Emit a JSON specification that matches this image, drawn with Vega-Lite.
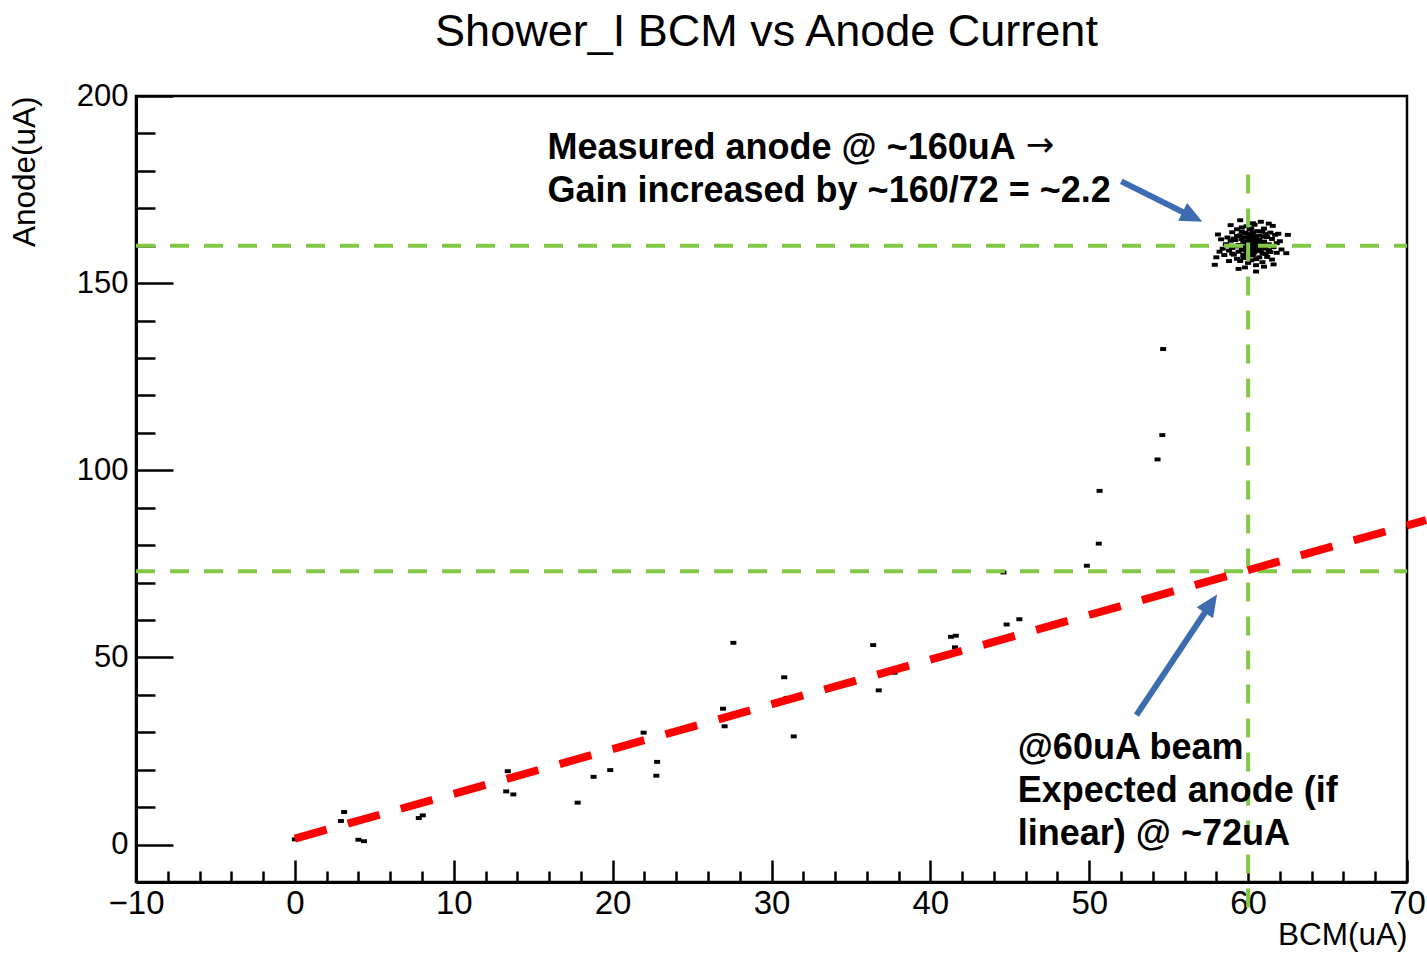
{
  "$schema": "https://vega.github.io/schema/vega-lite/v6.json",
  "autosize": {"type": "none"},
  "width": 1271,
  "height": 786,
  "padding": {"left": 136, "top": 96, "right": 20, "bottom": 71},
  "background": "white",
  "config": {
    "view": {"stroke": "black", "strokeWidth": 2.5},
    "font": "Liberation Sans",
    "axis": {
      "labelFont": "Liberation Sans",
      "titleFont": "Liberation Sans",
      "labelColor": "black",
      "titleColor": "black",
      "tickColor": "black",
      "domainColor": "black",
      "grid": false,
      "labelOverlap": false,
      "labelFlush": false,
      "titleFontWeight": "normal"
    }
  },
  "title": {
    "text": "Shower_I BCM vs Anode Current",
    "fontSize": 45,
    "font": "Liberation Sans",
    "fontWeight": "normal",
    "color": "black",
    "anchor": "middle",
    "frame": "group",
    "baseline": "alphabetic",
    "offset": -11,
    "dx": -5
  },
  "datasets": {
    "points": [
      {"bcm": 0.0, "anode": 1.4}, {"bcm": 3.1, "anode": 8.7}, {"bcm": 2.9, "anode": 6.3},
      {"bcm": 4.0, "anode": 1.3}, {"bcm": 4.35, "anode": 0.9}, {"bcm": 7.8, "anode": 7.1},
      {"bcm": 8.05, "anode": 7.8}, {"bcm": 13.4, "anode": 19.6}, {"bcm": 13.3, "anode": 14.2},
      {"bcm": 13.75, "anode": 13.4}, {"bcm": 17.05, "anode": 22.3}, {"bcm": 17.8, "anode": 11.2},
      {"bcm": 18.8, "anode": 18.1}, {"bcm": 19.85, "anode": 19.9}, {"bcm": 21.95, "anode": 29.9},
      {"bcm": 22.8, "anode": 22.1}, {"bcm": 22.75, "anode": 18.4}, {"bcm": 26.95, "anode": 36.3},
      {"bcm": 27.05, "anode": 31.6}, {"bcm": 27.6, "anode": 53.9}, {"bcm": 30.8, "anode": 44.7},
      {"bcm": 30.95, "anode": 39.2}, {"bcm": 31.4, "anode": 28.9}, {"bcm": 36.4, "anode": 53.3},
      {"bcm": 37.75, "anode": 45.9}, {"bcm": 36.75, "anode": 41.2}, {"bcm": 41.3, "anode": 55.5},
      {"bcm": 41.6, "anode": 55.8}, {"bcm": 41.55, "anode": 52.7}, {"bcm": 44.6, "anode": 72.7},
      {"bcm": 44.8, "anode": 58.8}, {"bcm": 45.6, "anode": 60.2}, {"bcm": 49.85, "anode": 74.5},
      {"bcm": 50.6, "anode": 80.4}, {"bcm": 50.65, "anode": 94.5}, {"bcm": 54.3, "anode": 102.9},
      {"bcm": 54.6, "anode": 109.4}, {"bcm": 54.65, "anode": 132.4},
      {"bcm": 59.2, "anode": 161.5}, {"bcm": 59.4, "anode": 160.2}, {"bcm": 59.5, "anode": 162.8},
      {"bcm": 59.6, "anode": 158.9}, {"bcm": 59.7, "anode": 161.0}, {"bcm": 59.8, "anode": 163.5},
      {"bcm": 59.8, "anode": 159.6}, {"bcm": 59.9, "anode": 160.8}, {"bcm": 60.0, "anode": 162.1},
      {"bcm": 60.0, "anode": 158.2}, {"bcm": 60.1, "anode": 161.4}, {"bcm": 60.1, "anode": 159.3},
      {"bcm": 60.2, "anode": 160.5}, {"bcm": 60.2, "anode": 163.0}, {"bcm": 60.3, "anode": 157.4},
      {"bcm": 60.3, "anode": 161.9}, {"bcm": 60.4, "anode": 159.8}, {"bcm": 60.5, "anode": 162.6},
      {"bcm": 60.5, "anode": 160.9}, {"bcm": 60.6, "anode": 158.6}, {"bcm": 60.7, "anode": 161.6},
      {"bcm": 60.8, "anode": 159.9}, {"bcm": 60.9, "anode": 163.8}, {"bcm": 60.9, "anode": 157.9},
      {"bcm": 61.0, "anode": 161.1}, {"bcm": 61.1, "anode": 159.2}, {"bcm": 61.2, "anode": 162.3},
      {"bcm": 61.3, "anode": 160.4}, {"bcm": 61.4, "anode": 158.3}, {"bcm": 61.5, "anode": 161.8},
      {"bcm": 61.6, "anode": 159.6}, {"bcm": 61.7, "anode": 162.9}, {"bcm": 61.8, "anode": 160.7},
      {"bcm": 58.6, "anode": 160.4}, {"bcm": 58.7, "anode": 162.2}, {"bcm": 58.8, "anode": 158.7},
      {"bcm": 58.9, "anode": 161.3}, {"bcm": 59.0, "anode": 159.4}, {"bcm": 59.0, "anode": 163.6},
      {"bcm": 59.1, "anode": 157.6}, {"bcm": 59.3, "anode": 164.4}, {"bcm": 59.3, "anode": 156.5},
      {"bcm": 59.5, "anode": 155.9}, {"bcm": 59.6, "anode": 164.9}, {"bcm": 59.7, "anode": 156.8},
      {"bcm": 59.9, "anode": 165.2}, {"bcm": 60.0, "anode": 155.4}, {"bcm": 60.1, "anode": 164.3},
      {"bcm": 60.2, "anode": 156.1}, {"bcm": 60.4, "anode": 165.6}, {"bcm": 60.5, "anode": 154.8},
      {"bcm": 60.6, "anode": 163.9}, {"bcm": 60.7, "anode": 156.9}, {"bcm": 60.9, "anode": 155.6},
      {"bcm": 61.0, "anode": 164.6}, {"bcm": 61.2, "anode": 157.0}, {"bcm": 61.4, "anode": 163.5},
      {"bcm": 61.5, "anode": 156.3}, {"bcm": 61.8, "anode": 158.1}, {"bcm": 62.0, "anode": 161.2},
      {"bcm": 62.1, "anode": 159.0}, {"bcm": 61.9, "anode": 163.2}, {"bcm": 58.4, "anode": 159.2},
      {"bcm": 58.3, "anode": 161.7}, {"bcm": 58.5, "anode": 157.5}, {"bcm": 58.2, "anode": 158.4},
      {"bcm": 58.0, "anode": 156.9}, {"bcm": 57.9, "anode": 154.9}, {"bcm": 58.1, "anode": 163.0},
      {"bcm": 59.4, "anode": 153.8}, {"bcm": 60.5, "anode": 153.1}, {"bcm": 62.5, "anode": 162.9},
      {"bcm": 61.55, "anode": 165.3}, {"bcm": 60.8, "anode": 166.4}, {"bcm": 59.5, "anode": 166.8},
      {"bcm": 58.9, "anode": 165.5}, {"bcm": 61.3, "anode": 165.9}, {"bcm": 62.4, "anode": 158.0},
      {"bcm": 59.8, "anode": 154.2}, {"bcm": 61.0, "anode": 154.4}, {"bcm": 58.8, "anode": 155.9},
      {"bcm": 61.6, "anode": 155.0}, {"bcm": 60.3, "anode": 166.0},
      {"bcm": 59.5, "anode": 160.0}, {"bcm": 59.6, "anode": 161.8}, {"bcm": 59.7, "anode": 159.2},
      {"bcm": 59.8, "anode": 162.2}, {"bcm": 59.9, "anode": 158.6}, {"bcm": 59.9, "anode": 163.2},
      {"bcm": 60.0, "anode": 160.0}, {"bcm": 60.0, "anode": 161.0}, {"bcm": 60.1, "anode": 157.8},
      {"bcm": 60.1, "anode": 162.8}, {"bcm": 60.2, "anode": 159.0}, {"bcm": 60.2, "anode": 161.7},
      {"bcm": 60.3, "anode": 160.2}, {"bcm": 60.3, "anode": 163.6}, {"bcm": 60.4, "anode": 158.2},
      {"bcm": 60.4, "anode": 162.2}, {"bcm": 60.5, "anode": 159.2}, {"bcm": 60.6, "anode": 161.2},
      {"bcm": 60.6, "anode": 160.1}, {"bcm": 60.7, "anode": 162.7}, {"bcm": 60.8, "anode": 158.8},
      {"bcm": 60.8, "anode": 161.0}, {"bcm": 59.4, "anode": 158.4}, {"bcm": 59.3, "anode": 162.6},
      {"bcm": 59.2, "anode": 159.8}, {"bcm": 59.1, "anode": 161.9}, {"bcm": 60.9, "anode": 160.3},
      {"bcm": 61.0, "anode": 162.4}, {"bcm": 61.1, "anode": 157.8}, {"bcm": 59.7, "anode": 157.6},
      {"bcm": 59.9, "anode": 156.7}, {"bcm": 60.5, "anode": 156.4}, {"bcm": 60.2, "anode": 164.6},
      {"bcm": 59.6, "anode": 163.8}, {"bcm": 61.1, "anode": 163.1}, {"bcm": 61.3, "anode": 158.8},
      {"bcm": 58.9, "anode": 160.0}, {"bcm": 59.0, "anode": 157.9}, {"bcm": 60.0, "anode": 159.5},
      {"bcm": 60.4, "anode": 161.3}, {"bcm": 60.7, "anode": 159.3}, {"bcm": 60.3, "anode": 158.7}
    ],
    "guides": [
      {"x1": -10, "x2": 70, "y1": 160, "y2": 160},
      {"x1": -10, "x2": 70, "y1": 73, "y2": 73},
      {"x1": 60, "x2": 60, "y1": 179, "y2": -20}
    ],
    "fit": [
      {"x1": 0, "y1": 1.6, "x2": 71.2, "y2": 86.7}
    ],
    "notes": [
      {"bcm": 15.9, "anode": 186.2, "label": "Measured anode @ ~160uA"},
      {"bcm": 15.9, "anode": 174.7, "label": "Gain increased by ~160/72 = ~2.2"},
      {"bcm": 45.5, "anode": 25.8, "label": "@60uA beam"},
      {"bcm": 45.5, "anode": 14.3, "label": "Expected anode (if"},
      {"bcm": 45.5, "anode": 2.8, "label": "linear) @ ~72uA"}
    ],
    "symbols": [
      {"bcm": 46.0, "anode": 186.6, "label": "→"}
    ],
    "arrows": [
      {"name": "gain", "x1": 52.02, "y1": 177.2, "x2": 56.5, "y2": 167.7},
      {"name": "expected", "x1": 52.97, "y1": 34.6, "x2": 57.66, "y2": 64.4}
    ]
  },
  "layer": [
    {
      "data": {"name": "points"},
      "mark": {"type": "point", "shape": "M-1,-0.65H1V0.65H-1Z", "filled": true, "color": "black", "size": 36, "opacity": 1, "strokeWidth": 0},
      "encoding": {
        "x": {
          "field": "bcm", "type": "quantitative",
          "scale": {"domain": [-10, 70], "nice": false, "zero": false},
          "axis": {
            "orient": "bottom",
            "values": [-10, 0, 10, 20, 30, 40, 50, 60, 70],
            "tickSize": -22, "tickWidth": 2.5,
            "labelPadding": 27, "labelFontSize": 33,
            "domainWidth": 3,
            "title": "BCM(uA)", "titleFontSize": 31.5,
            "titleAlign": "right", "titleAnchor": "end", "titleBaseline": "middle",
            "titleX": 1271, "titleY": 53
          }
        },
        "y": {
          "field": "anode", "type": "quantitative",
          "scale": {"domain": [-10, 200], "nice": false, "zero": false},
          "axis": {
            "orient": "left",
            "values": [0, 50, 100, 150, 200],
            "tickSize": -37, "tickWidth": 2.5,
            "labelPadding": 45, "labelFontSize": 31,
            "domainWidth": 3,
            "title": "Anode(uA)", "titleFontSize": 31.5,
            "titleAngle": -90, "titleAlign": "right", "titleAnchor": "end", "titleBaseline": "middle",
            "titleX": -111, "titleY": 0
          }
        }
      }
    },
    {
      "data": {"name": "guides"},
      "mark": {"type": "rule", "color": "#82c846", "strokeWidth": 4, "strokeDash": [19, 15]},
      "encoding": {
        "x": {"field": "x1", "type": "quantitative", "scale": {"domain": [-10, 70], "nice": false, "zero": false}, "axis": null},
        "x2": {"field": "x2"},
        "y": {"field": "y1", "type": "quantitative", "scale": {"domain": [-10, 200], "nice": false, "zero": false}, "axis": null},
        "y2": {"field": "y2"}
      }
    },
    {
      "data": {"name": "fit"},
      "mark": {"type": "rule", "color": "#ff0000", "strokeWidth": 8, "strokeDash": [33, 22], "strokeCap": "butt"},
      "encoding": {
        "x": {"field": "x1", "type": "quantitative", "scale": {"domain": [-10, 70], "nice": false, "zero": false}, "axis": null},
        "x2": {"field": "x2"},
        "y": {"field": "y1", "type": "quantitative", "scale": {"domain": [-10, 200], "nice": false, "zero": false}, "axis": null},
        "y2": {"field": "y2"}
      }
    },
    {
      "data": {"name": "notes"},
      "mark": {"type": "text", "align": "left", "baseline": "middle", "font": "Liberation Sans", "fontWeight": "bold", "fontSize": 36, "color": "black"},
      "encoding": {
        "x": {
          "field": "bcm", "type": "quantitative",
          "scale": {"domain": [-10, 70], "nice": false, "zero": false},
          "axis": {
            "orient": "bottom",
            "values": [-8, -6, -4, -2, 2, 4, 6, 8, 12, 14, 16, 18, 22, 24, 26, 28, 32, 34, 36, 38, 42, 44, 46, 48, 52, 54, 56, 58, 62, 64, 66, 68],
            "tickSize": -11, "tickWidth": 2.5,
            "labels": false, "domain": false, "title": null
          }
        },
        "y": {
          "field": "anode", "type": "quantitative",
          "scale": {"domain": [-10, 200], "nice": false, "zero": false},
          "axis": {
            "orient": "left",
            "values": [10, 20, 30, 40, 60, 70, 80, 90, 110, 120, 130, 140, 160, 170, 180, 190],
            "tickSize": -19, "tickWidth": 2.5,
            "labels": false, "domain": false, "title": null
          }
        },
        "text": {"field": "label", "type": "nominal"}
      }
    },
    {
      "data": {"name": "symbols"},
      "mark": {"type": "text", "align": "left", "baseline": "middle", "font": "DejaVu Sans", "fontWeight": "normal", "fontSize": 34, "color": "black"},
      "encoding": {
        "x": {"field": "bcm", "type": "quantitative", "scale": {"domain": [-10, 70], "nice": false, "zero": false}, "axis": null},
        "y": {"field": "anode", "type": "quantitative", "scale": {"domain": [-10, 200], "nice": false, "zero": false}, "axis": null},
        "text": {"field": "label", "type": "nominal"}
      }
    },
    {
      "data": {"name": "arrows"},
      "mark": {"type": "rule", "color": "#3d6cb0", "strokeWidth": 6, "strokeCap": "butt"},
      "encoding": {
        "x": {"field": "x1", "type": "quantitative", "scale": {"domain": [-10, 70], "nice": false, "zero": false}, "axis": null},
        "x2": {"field": "x2"},
        "y": {"field": "y1", "type": "quantitative", "scale": {"domain": [-10, 200], "nice": false, "zero": false}, "axis": null},
        "y2": {"field": "y2"}
      }
    },
    {
      "data": {"name": "arrows"},
      "transform": [{"filter": "datum.name === 'gain'"}],
      "mark": {"type": "point", "shape": "M0,-1L0.9,1L-0.9,1Z", "size": 484, "angle": 116.6, "filled": true, "color": "#3d6cb0", "opacity": 1, "strokeWidth": 0},
      "encoding": {
        "x": {"field": "x2", "type": "quantitative", "scale": {"domain": [-10, 70], "nice": false, "zero": false}, "axis": null},
        "y": {"field": "y2", "type": "quantitative", "scale": {"domain": [-10, 200], "nice": false, "zero": false}, "axis": null}
      }
    },
    {
      "data": {"name": "arrows"},
      "transform": [{"filter": "datum.name === 'expected'"}],
      "mark": {"type": "point", "shape": "M0,-1L0.9,1L-0.9,1Z", "size": 484, "angle": 33.7, "filled": true, "color": "#3d6cb0", "opacity": 1, "strokeWidth": 0},
      "encoding": {
        "x": {"field": "x2", "type": "quantitative", "scale": {"domain": [-10, 70], "nice": false, "zero": false}, "axis": null},
        "y": {"field": "y2", "type": "quantitative", "scale": {"domain": [-10, 200], "nice": false, "zero": false}, "axis": null}
      }
    }
  ],
  "resolve": {"axis": {"x": "independent", "y": "independent"}}
}
